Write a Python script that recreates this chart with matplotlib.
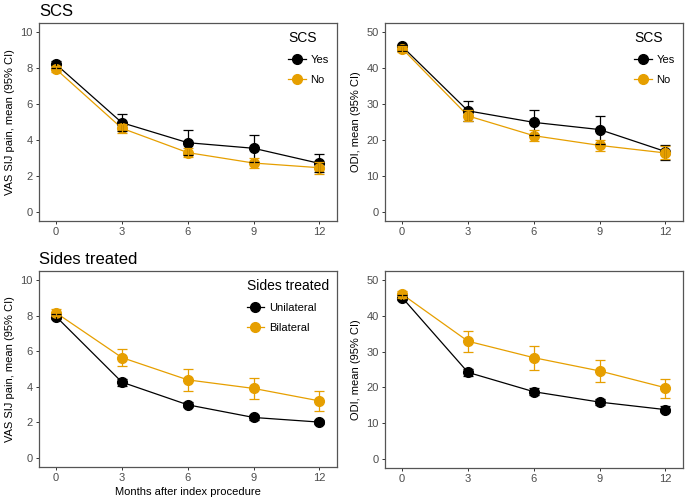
import matplotlib
matplotlib.use("Agg")
import matplotlib.pyplot as plt
from matplotlib.lines import Line2D

plt.rcParams['font.family'] = ['Liberation Sans', 'DejaVu Sans']

months = [0, 3, 6, 9, 12]

# SCS - VAS
vas_scs_yes = [8.2, 4.96, 3.85, 3.54, 2.7]
vas_scs_yes_lo = [8.0, 4.5, 3.15, 2.8, 2.2]
vas_scs_yes_hi = [8.4, 5.43, 4.56, 4.3, 3.2]
vas_scs_no = [7.93, 4.65, 3.3, 2.72, 2.46]
vas_scs_no_lo = [7.75, 4.4, 3.07, 2.43, 2.13]
vas_scs_no_hi = [8.1, 4.9, 3.55, 2.98, 2.8]

# SCS - ODI
odi_scs_yes = [46.0, 28.1, 24.9, 22.9, 16.8]
odi_scs_yes_lo = [44.8, 25.3, 21.3, 19.0, 14.5]
odi_scs_yes_hi = [46.5, 30.9, 28.4, 26.8, 18.5]
odi_scs_no = [45.4, 26.7, 21.2, 18.5, 16.4]
odi_scs_no_lo = [44.5, 25.2, 19.7, 16.9, 14.8]
odi_scs_no_hi = [46.0, 28.2, 22.9, 20.1, 18.3]

# Sides - VAS
vas_uni = [7.94, 4.26, 2.99, 2.28, 2.02]
vas_uni_lo = [7.8, 4.05, 2.85, 2.15, 1.9]
vas_uni_hi = [8.1, 4.45, 3.15, 2.4, 2.15]
vas_bi = [8.15, 5.64, 4.39, 3.91, 3.21]
vas_bi_lo = [7.95, 5.18, 3.78, 3.29, 2.65]
vas_bi_hi = [8.35, 6.13, 5.01, 4.52, 3.78]

# Sides - ODI
odi_uni = [45.1, 24.2, 18.8, 15.9, 13.8]
odi_uni_lo = [44.3, 23.2, 18.0, 15.2, 13.0]
odi_uni_hi = [45.9, 25.2, 19.7, 16.7, 14.7]
odi_bi = [46.0, 32.9, 28.3, 24.6, 19.9]
odi_bi_lo = [45.0, 30.0, 24.9, 21.6, 17.0]
odi_bi_hi = [47.0, 35.8, 31.6, 27.7, 22.4]

BLACK = '#000000'
ORANGE = '#E69F00'

W, H = 685, 498
fig = plt.figure(figsize=(W / 100, H / 100), dpi=100)


def add_ax(x0, y0, x1, y1):
    return fig.add_axes([x0 / W, 1 - y1 / H, (x1 - x0) / W, (y1 - y0) / H])


def panel(ax, series, ymax, ylabel, legend_title=None, labels=None, xlabel=None):
    for i, (m, lo, hi, col) in enumerate(series):
        ax.plot(months, m, color=col, lw=0.9, zorder=2 + i)
        ax.plot(months, m, 'o', color=col, ms=7, zorder=4 + i)
    for i, (m, lo, hi, col) in enumerate(series):
        yerr = [[a - b for a, b in zip(m, lo)], [b - a for a, b in zip(m, hi)]]
        ax.errorbar(months, m, yerr=yerr, fmt='none', ecolor=col, elinewidth=0.9,
                    capsize=3.6, capthick=0.9, zorder=6 + i)
    ax.set_xlim(-0.78, 12.8)
    ax.set_ylim(-ymax * 0.05, ymax * 1.05)
    ax.set_xticks(months)
    ax.set_yticks([ymax * k / 5 for k in range(6)])
    ax.set_yticklabels([str(int(ymax * k / 5)) for k in range(6)])
    for s in ax.spines.values():
        s.set_color('#555555')
        s.set_linewidth(0.9)
    ax.tick_params(colors='#333333', labelcolor='#4D4D4D', labelsize=8, length=2.5, width=0.7, pad=2)
    ax.set_ylabel(ylabel, fontsize=8, labelpad=4)
    if xlabel:
        ax.set_xlabel(xlabel, fontsize=8, labelpad=3)
    if legend_title:
        handles = [Line2D([0], [0], color=c, lw=0.9, marker='o', ms=7)
                   for (_, _, _, c) in series]
        leg = ax.legend(handles, labels, title=legend_title, loc='upper right',
                        frameon=False, fontsize=8, title_fontsize=10,
                        handlelength=1.6, handletextpad=0.4, labelspacing=0.9,
                        borderaxespad=0.35)
        leg._legend_box.align = 'left'


ax1 = add_ax(39, 23, 337, 221)
panel(ax1, [(vas_scs_yes, vas_scs_yes_lo, vas_scs_yes_hi, BLACK),
            (vas_scs_no, vas_scs_no_lo, vas_scs_no_hi, ORANGE)],
      10, 'VAS SIJ pain, mean (95% CI)', 'SCS', ['Yes', 'No'])
ax2 = add_ax(385, 23, 683, 221)
panel(ax2, [(odi_scs_yes, odi_scs_yes_lo, odi_scs_yes_hi, BLACK),
            (odi_scs_no, odi_scs_no_lo, odi_scs_no_hi, ORANGE)],
      50, 'ODI, mean (95% CI)', 'SCS', ['Yes', 'No'])
ax3 = add_ax(39, 271, 337, 467)
panel(ax3, [(vas_uni, vas_uni_lo, vas_uni_hi, BLACK),
            (vas_bi, vas_bi_lo, vas_bi_hi, ORANGE)],
      10, 'VAS SIJ pain, mean (95% CI)', 'Sides treated', ['Unilateral', 'Bilateral'],
      xlabel='Months after index procedure')
ax4 = add_ax(385, 271, 683, 468)
panel(ax4, [(odi_uni, odi_uni_lo, odi_uni_hi, BLACK),
            (odi_bi, odi_bi_lo, odi_bi_hi, ORANGE)],
      50, 'ODI, mean (95% CI)')

fig.text(39 / W, 1 - 11 / H, 'SCS', fontsize=12, va='center', ha='left')
fig.text(39 / W, 1 - 259 / H, 'Sides treated', fontsize=12, va='center', ha='left')

fig.savefig('out.png', dpi=100)
